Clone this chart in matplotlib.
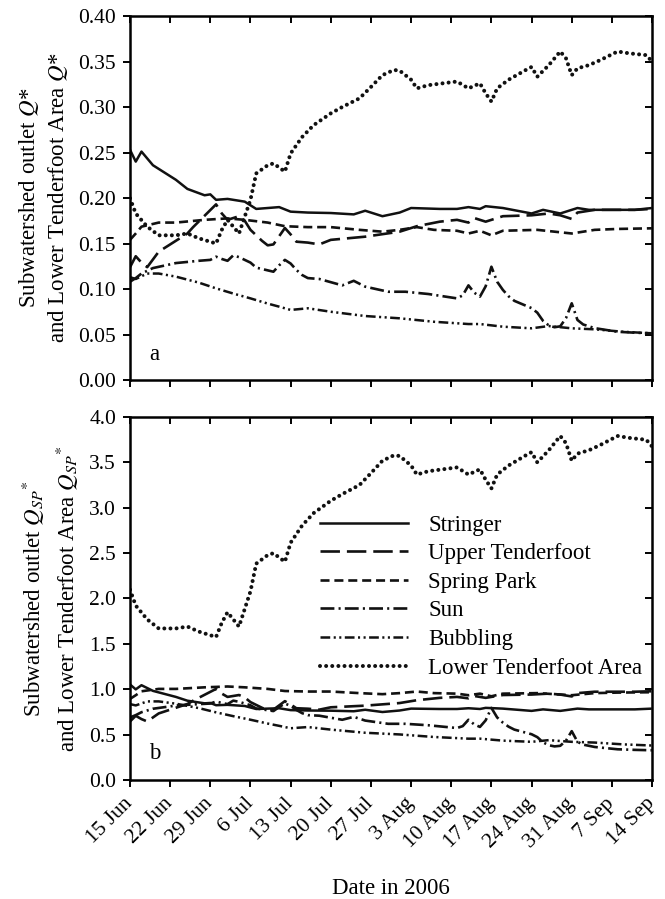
import numpy as np
import matplotlib.pyplot as plt

plt.rcParams['font.family'] = ['Liberation Serif', 'DejaVu Serif']
plt.rcParams['mathtext.fontset'] = 'stix'
plt.rcParams['font.size'] = 15.5
plt.rcParams['lines.scale_dashes'] = False

# x axis: days after 15 Jun 2006
tick_days = [0, 7, 14, 21, 28, 35, 42, 49, 56, 63, 70, 77, 84, 91]
tick_labels = ['15 Jun', '22 Jun', '29 Jun', '6 Jul', '13 Jul', '20 Jul', '27 Jul',
               '3 Aug', '10 Aug', '17 Aug', '24 Aug', '31 Aug', '7 Sep', '14 Sep']

names = ['Stringer', 'Upper Tenderfoot', 'Spring Park', 'Sun', 'Bubbling',
         'Lower Tenderfoot Area']

# panel a, Q*
stringer_days = [0, 1, 2, 4, 8, 10, 13, 14, 15, 17, 20, 22, 24, 26, 28, 31, 35, 39, 41,
                 44, 47, 49, 54, 57, 59, 61, 62, 65, 70, 72, 75, 78, 80, 85, 88, 91]
stringer_q = [0.253, 0.240, 0.251, 0.236, 0.220, 0.210, 0.203, 0.204, 0.198, 0.199,
              0.196, 0.188, 0.189, 0.190, 0.185, 0.184, 0.1835, 0.182, 0.186, 0.180,
              0.184, 0.189, 0.188, 0.188, 0.190, 0.188, 0.191, 0.189, 0.183, 0.187,
              0.183, 0.189, 0.187, 0.187, 0.187, 0.189]

upper_days = [0, 1, 2, 3, 5, 10, 11, 15, 16, 17, 18, 19, 20, 21, 23, 24, 25, 26, 27, 28,
              29, 31, 33, 35, 41, 47, 50, 54, 57, 59, 60, 62, 65, 70, 73, 75, 77, 78,
              81, 85, 88, 91]
upper_q = [0.124, 0.136, 0.129, 0.124, 0.141, 0.161, 0.168, 0.193, 0.183, 0.176,
           0.178, 0.180, 0.175, 0.165, 0.153, 0.148, 0.149, 0.158, 0.167, 0.160,
           0.152, 0.151, 0.149, 0.154, 0.1575, 0.163, 0.169, 0.174, 0.176, 0.173,
           0.178, 0.174, 0.180, 0.181, 0.183, 0.181, 0.177, 0.184, 0.187, 0.187,
           0.187, 0.188]

spring_days = [0, 1, 2, 5, 8, 13, 17, 20, 24, 27, 31, 35, 40, 44, 47, 50, 53, 57, 59,
               61, 63, 65, 71, 74, 77, 81, 85, 91]
spring_q = [0.154, 0.161, 0.1685, 0.173, 0.173, 0.176, 0.1776, 0.176, 0.173, 0.169,
            0.168, 0.168, 0.165, 0.163, 0.165, 0.168, 0.165, 0.164, 0.161, 0.164,
            0.159, 0.164, 0.165, 0.163, 0.161, 0.165, 0.166, 0.1667]

sun_days = [0, 1, 2, 4, 8, 12, 14, 15, 16, 17, 18, 19, 21, 22, 25, 26, 27, 28, 29, 30,
            31, 33, 37, 39, 41, 45, 48, 52, 57, 58, 59, 60, 61, 62, 63, 64, 65, 66, 67,
            70, 71, 72, 73, 74, 75, 76, 77, 78, 79, 81, 85, 88, 91]
sun_q = [0.108, 0.112, 0.117, 0.123, 0.1285, 0.131, 0.132, 0.1355, 0.133, 0.131,
         0.137, 0.135, 0.129, 0.1235, 0.119, 0.126, 0.132, 0.128, 0.121, 0.1154,
         0.112, 0.111, 0.104, 0.109, 0.1026, 0.097, 0.097, 0.0945, 0.0897, 0.093,
         0.104, 0.096, 0.0916, 0.103, 0.1245, 0.108, 0.099, 0.092, 0.087, 0.079,
         0.074, 0.065, 0.060, 0.058, 0.059, 0.068, 0.0843, 0.066, 0.061, 0.057,
         0.053, 0.052, 0.0513]

bubbling_days = [0, 1, 3, 5, 8, 12, 15, 18, 21, 24, 26, 28, 31, 35, 41, 47, 53, 59, 61,
                 65, 70, 73, 77, 81, 86, 91]
bubbling_q = [0.113, 0.111, 0.117, 0.117, 0.1136, 0.107, 0.1007, 0.095, 0.0897, 0.084,
              0.0806, 0.077, 0.0788, 0.075, 0.0703, 0.0678, 0.064, 0.0615, 0.0615,
              0.0586, 0.0568, 0.0593, 0.0568, 0.0557, 0.053, 0.0513]

lower_days = [0, 1, 3, 5, 8, 10, 12, 15, 16, 17, 19, 20, 21, 22, 24, 25, 27, 28, 30, 32,
              35, 37, 40, 42, 44, 46, 47, 49, 50, 52, 57, 59, 61, 62, 63, 64, 66, 69,
              70, 71, 73, 75, 76, 77, 78, 80, 82, 85, 87, 90, 91]
lower_q = [0.1997, 0.183, 0.1685, 0.159, 0.159, 0.161, 0.1557, 0.150, 0.165, 0.176,
           0.161, 0.1795, 0.198, 0.227, 0.236, 0.238, 0.229, 0.249, 0.267, 0.280,
           0.293, 0.300, 0.3095, 0.322, 0.335, 0.3407, 0.340, 0.330, 0.3205, 0.324,
           0.328, 0.3205, 0.326, 0.315, 0.306, 0.3205, 0.330, 0.3407, 0.344, 0.3333,
           0.346, 0.361, 0.3535, 0.335, 0.3425, 0.346, 0.3516, 0.361, 0.359, 0.357,
           0.350]

# panel b, Q_SP* = Q* / drainage-area fraction; ratio
qsp_ratio = [4.16, 5.2, 5.8, 6.38, 7.4, 10.5]

all_days = [stringer_days, upper_days, spring_days, sun_days, bubbling_days, lower_days]
all_q = [stringer_q, upper_q, spring_q, sun_q, bubbling_q, lower_q]

styles = [
    dict(linestyle='-', lw=1.8),
    dict(linestyle=(0, (14, 5)), lw=1.9),
    dict(linestyle=(0, (6.5, 3.5)), lw=1.9),
    dict(linestyle=(0, (10, 3, 1.5, 3)), lw=1.9),
    dict(linestyle=(0, (7, 2.5, 1.5, 2.5, 1.5, 2.5)), lw=1.8),
    dict(linestyle=(0, (0.01, 4.4)), lw=2.9, dash_capstyle='round'),
]

fig = plt.figure(figsize=(6.65, 8.99), dpi=100)
ax1 = fig.add_axes([0.1955, 0.5773, 0.785, 0.4049])
ax2 = fig.add_axes([0.1955, 0.1324, 0.785, 0.4038])


def style_axes(ax, yticks, fmt):
    ax.set_xlim(0, 91)
    ax.set_xticks(tick_days)
    ax.set_yticks(yticks)
    ax.set_yticklabels([fmt % v for v in yticks])
    ax.set_ylim(yticks[0], yticks[-1])
    ax.tick_params(direction='out', length=5, width=1.4)
    ax.tick_params(axis='y', pad=5)
    for s in ['left', 'bottom']:
        ax.spines[s].set_linewidth(1.8)
    ax.spines['top'].set_visible(False)
    ax.spines['right'].set_visible(False)
    top = ax.secondary_xaxis('top')
    top.set_xticks(tick_days)
    top.xaxis.set_ticklabels([])
    top.tick_params(direction='in', length=5, width=1.4)
    top.spines['top'].set_linewidth(1.8)
    right = ax.secondary_yaxis('right')
    right.set_yticks(yticks)
    right.yaxis.set_ticklabels([])
    right.tick_params(direction='in', length=5, width=1.4)
    right.spines['right'].set_linewidth(1.8)


for d, q, st, nm in zip(all_days, all_q, styles, names):
    ax1.plot(d, q, color='#111111', **st)
for d, q, r, st, nm in zip(all_days, all_q, qsp_ratio, styles, names):
    ax2.plot(d, np.array(q) * r, color='#111111', label=nm, **st)

style_axes(ax1, [0, 0.05, 0.10, 0.15, 0.20, 0.25, 0.30, 0.35, 0.40], '%.2f')
style_axes(ax2, [0, 0.5, 1.0, 1.5, 2.0, 2.5, 3.0, 3.5, 4.0], '%.1f')
ax1.set_xticklabels([])
ax2.set_xticklabels(tick_labels, rotation=45, ha='right', va='center',
                    rotation_mode='anchor')
ax2.tick_params(axis='x', pad=10)

ax1.set_ylabel('Subwatershed outlet $Q$*\nand Lower Tenderfoot Area $Q$*',
               fontsize=16.5, labelpad=6, linespacing=1.3)
ax2.set_ylabel('Subwatershed outlet $Q_{SP}{}^{*}$\nand Lower Tenderfoot Area $Q_{SP}{}^{*}$',
               fontsize=16.5, labelpad=6, linespacing=1.3)
ax2.set_xlabel('Date in 2006', fontsize=16.5, labelpad=19)

ax1.text(0.036, 0.055, 'a', transform=ax1.transAxes, fontsize=16.5)
ax2.text(0.036, 0.058, 'b', transform=ax2.transAxes, fontsize=16.5)

ax2.legend(loc='upper left', bbox_to_anchor=(0.364, 0.731), frameon=False,
           handlelength=3.85, handletextpad=0.87, labelspacing=0.33, borderpad=0,
           borderaxespad=0, fontsize=16.5)

fig.savefig('out.png', dpi=100)
